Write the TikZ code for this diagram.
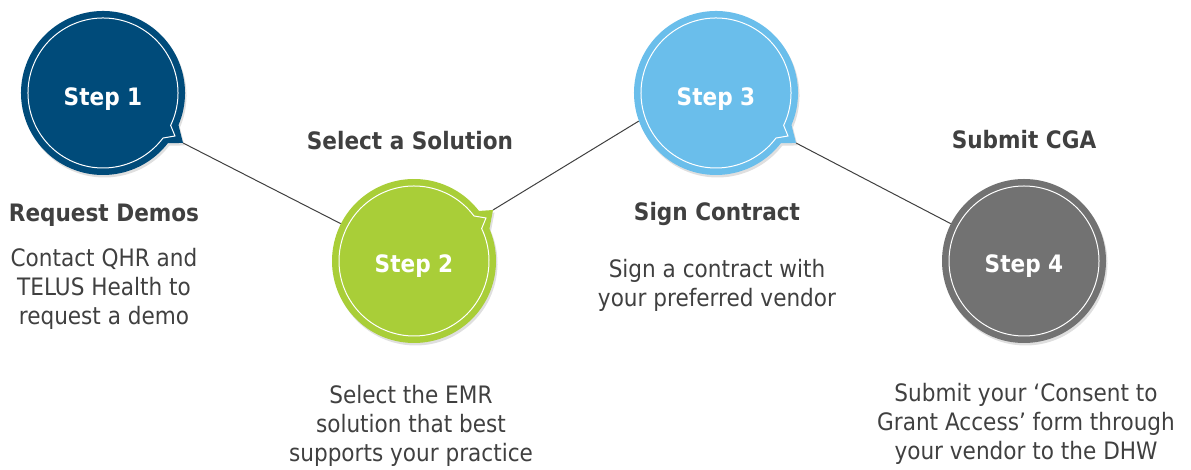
\documentclass[tikz,border=0pt]{standalone}
\usepackage{fontspec}
\setmainfont{DejaVu Sans}[FakeStretch=0.9]
\usepackage{tikz}
\usetikzlibrary{calc, shadows}
\definecolor{stepOneBg}{RGB}{0, 75, 122}
\definecolor{stepTwoBg}{RGB}{169, 206, 56}
\definecolor{stepThreeBg}{RGB}{106, 190, 235}
\definecolor{stepFourBg}{RGB}{114, 114, 114}
\definecolor{textFg}{RGB}{64, 64, 64}
\tikzstyle{line} = [line width=1pt, draw=textFg]
\tikzstyle{stepcircle} = [circle, minimum size=164pt, inner sep=0pt]
\tikzstyle{bubble} = [drop shadow={opacity=0.25, shadow xshift=1.5pt, shadow yshift=-2.5pt}]
\tikzstyle{ring} = [draw=white, line width=1pt]
\tikzstyle{steplabel} = [anchor=base, text=white, font=\fontsize{24}{29}\selectfont\bfseries]
\tikzstyle{heading} = [anchor=base, text=textFg, font=\fontsize{24}{29}\selectfont\bfseries]
\tikzstyle{body} = [anchor=base, align=center, text=textFg, font=\fontsize{24}{29}\selectfont]
\begin{document}
\begin{tikzpicture}[x=1pt, y=1pt]
\useasboundingbox (0,0) rectangle (1191,470);

\node (s1) [stepcircle] at (103,377) {};
\node (s2) [stepcircle] at (414,209) {};
\node (s3) [stepcircle] at (716,377) {};
\node (s4) [stepcircle] at (1024,209) {};

\coordinate (tip1) at ($(s1)+(80,-50)$);
\coordinate (tip2) at ($(s2)+(79,51)$);
\coordinate (tip3) at ($(s3)+(80,-50)$);

\draw [line] (tip1) -- (s2.153);
\draw [line] (tip2) -- (s3.200);
\draw [line] (tip3) -- (s4.153);

% bubbles with tails
\fill [bubble, stepOneBg] ($(s1)+(-23:82pt)$) arc[start angle=-23, end angle=322.4, radius=82pt] -- (tip1) -- cycle;
\draw [ring] ($(s1)+(-25.6:75pt)$) arc[start angle=-25.6, end angle=323.1, radius=75pt] -- ($(s1)+(72,-43)$) -- cycle;

\fill [bubble, stepTwoBg] ($(s2)+(37.6:82pt)$) arc[start angle=37.6, end angle=383.1, radius=82pt] -- (tip2) -- cycle;
\draw [ring] ($(s2)+(36.9:75pt)$) arc[start angle=36.9, end angle=385.6, radius=75pt] -- ($(s2)+(72,43)$) -- cycle;

\fill [bubble, stepThreeBg] ($(s3)+(-23:82pt)$) arc[start angle=-23, end angle=322.4, radius=82pt] -- (tip3) -- cycle;
\draw [ring] ($(s3)+(-25.6:75pt)$) arc[start angle=-25.6, end angle=323.1, radius=75pt] -- ($(s3)+(72,-43)$) -- cycle;

\fill [bubble, stepFourBg] (s4) circle[radius=82pt];
\draw [ring] (s4) circle[radius=75pt];

\node (l1) [steplabel] at ($(s1)+(0,-13)$) {Step 1};
\node (l2) [steplabel] at ($(s2)+(0,-12)$) {Step 2};
\node (l3) [steplabel] at ($(s3)+(0,-13)$) {Step 3};
\node (l4) [steplabel] at ($(s4)+(0,-12)$) {Step 4};

% titles and descriptions (body nodes sit on their last line)
\node (demosHead) [heading] at (104,248) {Request Demos};
\node (demosText) [body] at ([yshift=-103pt]demosHead.base) {Contact QHR and\\TELUS Health to\\request a demo};

\node (solutionHead) [heading] at (410,320) {Select a Solution};
\node (solutionText) [body] at (411,8) {Select the EMR\\solution that best\\supports your practice};

\node (contractHead) [heading] at (717,249) {Sign Contract};
\node (contractText) [body] at ([yshift=-86pt]contractHead.base) {Sign a contract with\\your preferred vendor};

\node (cgaHead) [heading] at (1024,321) {Submit CGA};
\node (cgaText) [body] at (1026,10) {Submit your ‘Consent to\\Grant Access’ form through\\your vendor to the DHW};

\end{tikzpicture}
\end{document}
